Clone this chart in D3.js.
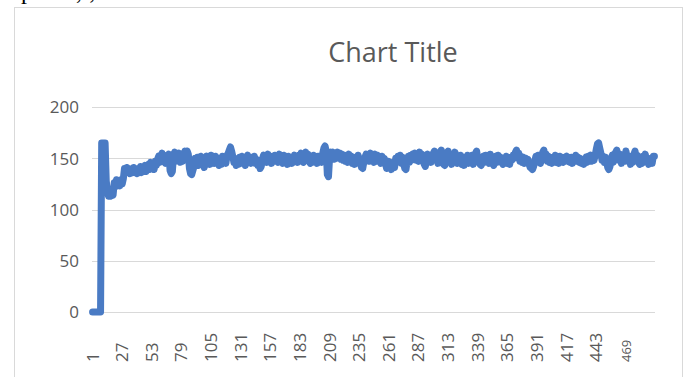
<!DOCTYPE html>
<html>
<head>
<meta charset="utf-8">
<script src="https://cdn.jsdelivr.net/npm/d3@7"></script>
<style>
  html, body { margin: 0; padding: 0; background: #fff; }
  svg { display: block; }
</style>
</head>
<body>
<svg id="chart" width="686" height="377"></svg>
<script>
// Measured series, one value per sample
const values = [
  0,0,0,0,0,0,0,0,165,165,165,165,128,118,113,120,113,117,114,126,
  122,129,124,128,123,129,125,130,140,136,141,137,140,135,139,136,141,137,139,135,
  140,137,142,136,141,139,143,137,140,144,139,146,141,145,139,147,143,149,152,146,
  150,155,147,153,145,152,148,154,138,135,137,152,156,147,154,148,155,146,152,147,
  153,157,150,157,154,140,135,134,138,142,150,144,151,143,147,152,145,150,141,148,
  152,146,150,144,153,147,151,145,152,146,150,143,149,144,152,147,150,145,153,155,
  158,161,157,152,146,150,143,149,144,151,147,152,145,150,143,151,153,146,150,145,
  151,146,152,145,149,143,146,140,142,149,153,147,152,146,154,148,151,145,152,147,
  153,147,152,146,154,148,151,145,153,147,150,144,152,146,151,145,149,153,147,152,
  146,153,149,155,148,146,152,156,150,154,147,145,151,146,153,147,151,145,152,148,
  151,146,155,160,162,157,134,132,151,156,150,156,149,155,150,156,152,155,149,154,
  148,153,147,152,146,154,148,152,145,151,144,150,146,153,148,145,141,140,146,151,
  154,148,153,147,155,149,152,146,154,148,153,147,151,145,152,146,150,145,140,141,
  147,141,139,140,146,141,150,146,152,147,153,145,151,144,140,139,147,152,146,153,
  148,154,149,155,148,152,147,156,150,154,148,144,142,149,154,147,153,146,152,155,
  157,151,154,145,150,156,158,150,144,143,149,155,157,148,153,144,151,147,156,149,
  145,150,146,153,144,149,143,151,147,153,145,150,146,153,144,151,155,157,150,146,
  144,143,148,152,146,153,147,151,145,154,148,145,143,148,152,146,153,147,151,146,
  144,150,146,152,145,149,144,151,148,153,150,156,158,151,155,147,152,146,151,145,
  150,146,149,144,141,140,139,142,147,152,146,153,148,145,152,156,158,151,154,147,
  152,146,150,145,151,147,153,146,150,145,152,147,150,146,151,148,152,147,150,146,
  151,145,150,147,153,147,151,146,150,145,149,144,148,151,146,152,149,153,147,152,
  148,153,159,164,165,160,155,148,152,146,151,147,141,139,142,149,153,146,151,156,
  158,152,148,154,145,150,153,147,157,151,147,152,144,149,146,154,157,150,153,146,
  144,148,145,152,147,154,146,150,144,147,150,145,152,152
];
// Category labels 1..N
const categories = values.map((_, i) => i + 1);
const xTickLabels = [1, 27, 53, 79, 105, 131, 157, 183, 209, 235, 261, 287, 313, 339, 365, 391, 417, 443, 469];
const yTicks = [0, 50, 100, 150, 200];
const chartTitle = "Chart Title";

const svg = d3.select("#chart");
const font = "'Open Sans', 'Liberation Sans', sans-serif";
const textColor = "#595959";
const gridColor = "#d9d9d9";

// Line of the surrounding page text, mostly above the top edge
const pageText = svg.append("text").attr("y", -1)
  .attr("font-family", "'Liberation Serif', serif").attr("font-size", 24)
  .attr("fill", "#000");
pageText.append("tspan").attr("x", 21).text("p");
pageText.append("tspan").attr("x", 76).text(",");
pageText.append("tspan").attr("x", 89).text(";");

// Chart frame
svg.append("rect")
  .attr("x", 14.5).attr("y", 7.5)
  .attr("width", 668).attr("height", 380)
  .attr("fill", "#fff").attr("stroke", gridColor).attr("stroke-width", 1);

const plot = { left: 92, right: 655, top: 107, bottom: 312 };

const x = d3.scaleBand().domain(categories).range([plot.left, plot.right]).padding(0);
const y = d3.scaleLinear().domain([0, 200]).range([plot.bottom, plot.top]);

// Title
svg.append("text")
  .attr("x", 393).attr("y", 62)
  .attr("text-anchor", "middle")
  .attr("font-family", font).attr("font-size", 27)
  .attr("fill", textColor)
  .text(chartTitle);

// Horizontal gridlines
svg.append("g")
  .selectAll("line")
  .data(yTicks)
  .join("line")
  .attr("x1", plot.left).attr("x2", plot.right)
  .attr("y1", d => Math.round(y(d)) + 0.5).attr("y2", d => Math.round(y(d)) + 0.5)
  .attr("stroke", gridColor).attr("stroke-width", 1.2);

// Y axis labels
const yAxis = d3.axisLeft(y).tickValues(yTicks).tickSize(0).tickPadding(0);
const gy = svg.append("g").attr("transform", `translate(79,0)`).call(yAxis);
gy.select(".domain").remove();
gy.selectAll("text")
  .attr("font-family", font).attr("font-size", 17)
  .attr("fill", textColor).attr("dy", "0.35em");

// X axis labels, rotated and bottom-aligned
const xAxis = d3.axisBottom(x).tickValues(xTickLabels).tickSize(0).tickPadding(0);
const gx = svg.append("g").attr("transform", `translate(0,${plot.bottom})`).call(xAxis);
gx.select(".domain").remove();
gx.selectAll("text")
  .attr("font-family", font)
  .attr("font-size", d => d === 469 ? 13 : 17)
  .attr("fill", textColor)
  .attr("transform", "rotate(-90)")
  .attr("text-anchor", "start")
  .attr("x", -50).attr("y", 0).attr("dy", "0.35em");

// Series line
const line = d3.line()
  .x((d, i) => x(categories[i]) + x.bandwidth() / 2)
  .y(d => y(d));

svg.append("path")
  .datum(values)
  .attr("d", line)
  .attr("fill", "none")
  .attr("stroke", "#4a7bc4")
  .attr("stroke-width", 7)
  .attr("stroke-linejoin", "round")
  .attr("stroke-linecap", "round");
</script>
</body>
</html>
